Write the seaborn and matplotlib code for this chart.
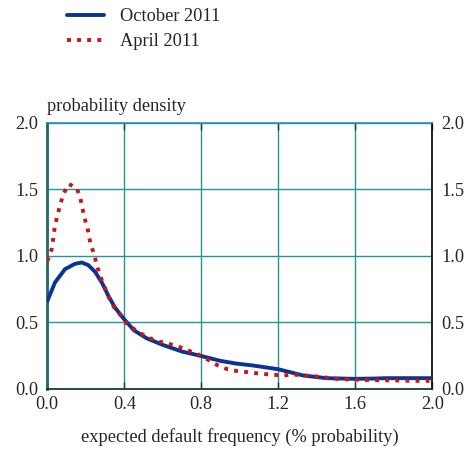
import matplotlib
matplotlib.use("Agg")
import matplotlib.pyplot as plt
import seaborn as sns
import pandas as pd

# October 2011 curve (expected default frequency %, probability density)
oct_x = [0.0, 0.04, 0.092, 0.144, 0.179, 0.213, 0.248, 0.283, 0.317, 0.352,
         0.395, 0.45, 0.516, 0.60, 0.70, 0.79, 0.90, 0.98, 1.07, 1.20,
         1.33, 1.45, 1.59, 1.70, 1.76, 1.85, 2.00]
oct_y = [0.66, 0.80, 0.90, 0.94, 0.95, 0.93, 0.88, 0.80, 0.70, 0.61,
         0.53, 0.44, 0.38, 0.33, 0.28, 0.25, 0.21, 0.19, 0.175, 0.147,
         0.10, 0.08, 0.075, 0.077, 0.08, 0.08, 0.08]

# April 2011 curve
apr_x = [0.0, 0.023, 0.039, 0.052, 0.068, 0.085, 0.112, 0.153, 0.172, 0.185,
         0.198, 0.213, 0.224, 0.244, 0.257, 0.274, 0.296, 0.322, 0.348, 0.383,
         0.418, 0.46, 0.516, 0.568, 0.625, 0.677, 0.729, 0.781, 0.833, 0.88,
         0.93, 0.98, 1.04, 1.10, 1.16, 1.22, 1.28, 1.34, 1.39, 1.45, 1.51,
         1.57, 1.63, 1.70, 1.80, 1.90, 2.00]
apr_y = [0.96, 1.05, 1.22, 1.30, 1.39, 1.47, 1.54, 1.51, 1.43, 1.34,
         1.26, 1.18, 1.09, 1.01, 0.93, 0.85, 0.77, 0.68, 0.61, 0.55,
         0.48, 0.44, 0.39, 0.36, 0.34, 0.32, 0.29, 0.26, 0.22, 0.18,
         0.15, 0.135, 0.125, 0.115, 0.107, 0.10, 0.107, 0.10, 0.094, 0.084, 0.074,
         0.07, 0.067, 0.065, 0.063, 0.06, 0.06]

series_labels = ["October 2011", "April 2011"]
x_ticks = [0.0, 0.4, 0.8, 1.2, 1.6, 2.0]
y_ticks = [0.0, 0.5, 1.0, 1.5, 2.0]
y_title = "probability density"
x_title = "expected default frequency (% probability)"

sns.set_style("white")
plt.rcParams["font.family"] = ["Liberation Serif", "DejaVu Serif"]
FS = 13.2
plt.rcParams["font.size"] = FS

TEAL = "#2592a0"
DARK = "#1a3c40"
BLUE = "#0b3391"
RED = "#cc1414"

fig = plt.figure(figsize=(4.75, 4.5), dpi=100)
ax = fig.add_axes([0.0996, 0.136, 0.8105, 0.591])

df_oct = pd.DataFrame({"x": oct_x, "y": oct_y})
df_apr = pd.DataFrame({"x": apr_x, "y": apr_y})

sns.lineplot(data=df_oct, x="x", y="y", ax=ax, color=BLUE, linewidth=2.8,
             label=series_labels[0], sort=False, zorder=4)
sns.lineplot(data=df_apr, x="x", y="y", ax=ax, color=RED, linewidth=2.8,
             label=series_labels[1], sort=False, zorder=5,
             linestyle=(0, (1, 1.6)))

ax.set_xlim(0, 2.0)
ax.set_ylim(0, 2.0)
ax.set_xticks(x_ticks)
ax.set_yticks(y_ticks)
ax.set_xticklabels([f"{v:.1f}" for v in x_ticks])
ax.set_yticklabels([f"{v:.1f}" for v in y_ticks])
ax.set_xlabel("")
ax.set_ylabel("")

ax.grid(True, color=TEAL, linewidth=1.0)
ax.set_axisbelow(True)

ax.tick_params(axis="x", direction="in", length=5, width=1, color=DARK,
               top=True, bottom=True, pad=5, labelsize=FS)
ax.tick_params(axis="y", direction="in", length=0, left=True, right=True,
               labelleft=True, labelright=True, pad=6.5, labelsize=FS)

ax.spines["left"].set_color("#1f6770")
ax.spines["left"].set_linewidth(2.0)
ax.spines["bottom"].set_color(DARK)
ax.spines["bottom"].set_linewidth(1.3)
ax.spines["top"].set_color(TEAL)
ax.spines["top"].set_linewidth(1.2)
ax.spines["right"].set_color("#111111")
ax.spines["right"].set_linewidth(1.3)
for s in ax.spines.values():
    s.set_visible(True)

fig.text(0.099, 0.745, y_title, fontsize=FS, ha="left", va="bottom")
fig.text(0.505, 0.028, x_title, fontsize=FS, ha="center", va="center")

ax.legend_.remove()
handles, labels = ax.get_legend_handles_labels()
fig.legend(handles, labels, loc="upper left", bbox_to_anchor=(0.118, 1.006),
           frameon=False, handlelength=2.0, handletextpad=0.9,
           labelspacing=0.42, borderpad=0.1, fontsize=FS)

fig.savefig("out.png", dpi=100, facecolor="white")
